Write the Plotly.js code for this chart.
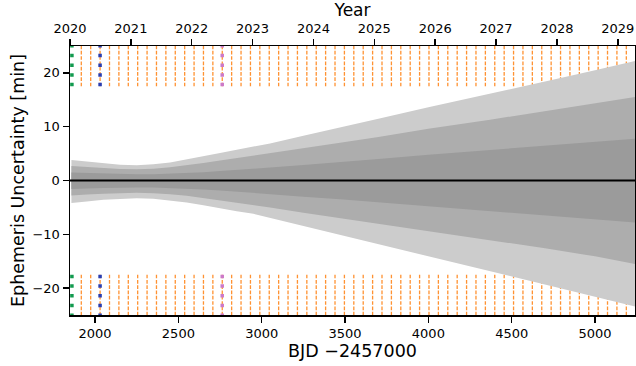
<!DOCTYPE html>
<html>
<head>
<meta charset="utf-8">
<script src="https://cdn.plot.ly/plotly-3.0.1.min.js"></script>
<style>html,body{margin:0;padding:0;background:#fff;}#chart{width:636px;height:366px;}</style>
</head>
<body>
<div id="chart"></div>
<script>
// ---- data (BJD - 2457000) ----
const bandX  = [1858, 1950, 2050, 2150, 2250, 2350, 2450, 2550, 2650, 2750, 2850, 2950, 3050, 3250, 3470, 3700, 4000, 4370, 4700, 5000, 5240];
const outerHi = [3.8, 3.55, 3.2, 2.95, 2.85, 3.0, 3.35, 3.9, 4.5, 5.1, 5.7, 6.3, 6.9, 8.3, 9.9, 11.5, 13.6, 16.1, 18.4, 20.5, 22.2];
const outerLo = [-4.2, -3.9, -3.6, -3.4, -3.3, -3.4, -3.7, -4.1, -4.6, -5.1, -5.7, -6.2, -6.9, -8.4, -10.1, -11.8, -14.1, -16.8, -19.3, -21.6, -23.4];
const midHi   = [2.7, 2.5, 2.3, 2.15, 2.1, 2.2, 2.45, 2.8, 3.25, 3.7, 4.15, 4.55, 5.0, 6.0, 7.0, 8.1, 9.6, 11.3, 12.9, 14.4, 15.5];
const midLo   = [-2.8, -2.6, -2.45, -2.35, -2.3, -2.35, -2.55, -2.85, -3.25, -3.7, -4.15, -4.55, -5.0, -6.0, -7.0, -8.1, -9.5, -11.1, -12.6, -14.1, -15.5];
const innerHi = [1.5, 1.4, 1.3, 1.2, 1.15, 1.15, 1.25, 1.4, 1.55, 1.75, 1.95, 2.15, 2.4, 2.9, 3.5, 4.0, 4.8, 5.7, 6.5, 7.2, 7.75];
const innerLo = [-1.6, -1.5, -1.4, -1.3, -1.3, -1.3, -1.4, -1.5, -1.65, -1.85, -2.05, -2.25, -2.5, -3.0, -3.5, -4.0, -4.8, -5.7, -6.5, -7.2, -7.8];

const windowTimes = [1917.3, 1973.7, 2030.1, 2086.5, 2142.9, 2199.3, 2255.6, 2312.0, 2368.4, 2424.8,
  2481.2, 2537.6, 2594.0, 2650.4, 2706.8, 2763.2, 2819.5, 2875.9, 2932.3, 2988.7,
  3045.1, 3101.5, 3157.9, 3214.3, 3270.7, 3327.1, 3383.4, 3439.8, 3496.2, 3552.6,
  3609.0, 3665.4, 3721.8, 3778.2, 3834.6, 3891.0, 3947.3, 4003.7, 4060.1, 4116.5,
  4172.9, 4229.3, 4285.7, 4342.1, 4398.5, 4454.9, 4511.2, 4567.6, 4624.0, 4680.4,
  4736.8, 4793.2, 4849.6, 4906.0, 4962.4, 5018.8, 5075.1, 5131.5, 5187.9];
const greenTimes  = [1861];
const blueTimes   = [2030];
const purpleTimes = [2763];

const xRange = [1849.5, 5240];
const yRange = [-25, 25];
const markY = [17.5, 26];

// ---- build traces ----
function vlines(times) {
  const xs = [], ys = [];
  times.forEach(t => {
    xs.push(t, t, null, t, t, null);
    ys.push(markY[0], markY[1], null, -markY[0], -markY[1], null);
  });
  return {x: xs, y: ys};
}
function band(hi, lo, color) {
  return {
    x: bandX.concat(bandX.slice().reverse()),
    y: hi.concat(lo.slice().reverse()),
    type: 'scatter', mode: 'lines', fill: 'toself', fillcolor: color,
    line: {width: 0, color: color}, hoverinfo: 'skip', showlegend: false
  };
}
const o = vlines(windowTimes), g = vlines(greenTimes), b = vlines(blueTimes), p = vlines(purpleTimes);
const dotStyle = '3.5px,6.2px';
const traces = [
  {x: o.x, y: o.y, type: 'scatter', mode: 'lines', line: {color: 'rgba(255,127,14,0.85)', width: 1.3, dash: '3.7px,1.6px'}, showlegend: false, hoverinfo: 'skip'},
  {x: g.x, y: g.y, type: 'scatter', mode: 'lines', line: {color: '#129a4e', width: 3.5, dash: dotStyle}, showlegend: false, hoverinfo: 'skip'},
  {x: b.x, y: b.y, type: 'scatter', mode: 'lines', line: {color: '#2a3eb1', width: 3.5, dash: dotStyle}, showlegend: false, hoverinfo: 'skip'},
  {x: p.x, y: p.y, type: 'scatter', mode: 'lines', line: {color: '#cc79c8', width: 3.5, dash: dotStyle}, showlegend: false, hoverinfo: 'skip'},
  band(outerHi, outerLo, '#cccccc'),
  band(midHi, midLo, '#adadad'),
  band(innerHi, innerLo, '#9b9b9b'),
  // dummy trace to activate top year axis
  {x: [2021], y: [0], xaxis: 'x2', type: 'scatter', mode: 'markers', marker: {opacity: 0}, showlegend: false, hoverinfo: 'skip'}
];

const toYear = d => 2020 + (d - 1849.5) / 365.25;
const font = {family: 'DejaVu Sans', color: '#000'};

const layout = {
  width: 636, height: 366,
  margin: {l: 70, r: 1, t: 46, b: 51},
  paper_bgcolor: '#fff', plot_bgcolor: '#fff',
  font: Object.assign({size: 13}, font),
  showlegend: false,
  xaxis: {
    range: xRange, tick0: 0, dtick: 500, ticks: 'outside', ticklen: 6, tickwidth: 1.5, tickcolor: '#000',
    showline: true, linecolor: '#000', linewidth: 1.5, showgrid: false, zeroline: false,
    tickfont: {size: 13}, title: {text: 'BJD −2457000', font: {size: 17.5}, standoff: 4}
  },
  xaxis2: {
    overlaying: 'x', side: 'top', range: [toYear(xRange[0]), toYear(xRange[1])],
    tick0: 2020, dtick: 1, ticks: 'outside', ticklen: 6, tickwidth: 1.5, tickcolor: '#000',
    showline: true, linecolor: '#000', linewidth: 1.5, showgrid: false, zeroline: false,
    tickfont: {size: 13}, title: {text: 'Year', font: {size: 17}, standoff: 0}
  },
  yaxis: {
    range: yRange, tickvals: [-20, -10, 0, 10, 20], ticks: 'outside', ticklen: 6, tickwidth: 1.5, tickcolor: '#000',
    showline: true, mirror: true, linecolor: '#000', linewidth: 1.5, showgrid: false, zeroline: false,
    tickfont: {size: 13}, title: {text: 'Ephemeris Uncertainty [min]', font: {size: 17.5}, standoff: 3}
  },
  shapes: [{type: 'line', xref: 'paper', x0: 0, x1: 1, yref: 'y', y0: 0, y1: 0, line: {color: '#000', width: 2}, layer: 'above'}]
};

Plotly.newPlot('chart', traces, layout, {staticPlot: true, displayModeBar: false});
</script>
</body>
</html>
